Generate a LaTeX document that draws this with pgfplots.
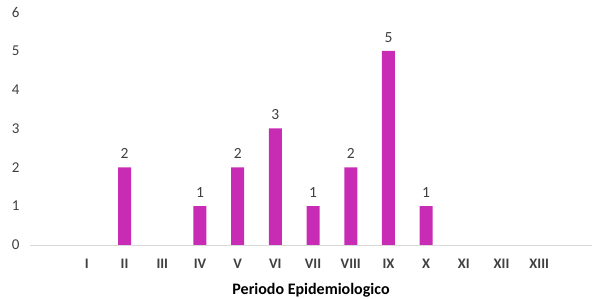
\documentclass[border=0pt]{standalone}
\usepackage{pgfplots}
\pgfplotsset{compat=1.18}
\usepackage{fontspec}
\setmainfont{Carlito}
\definecolor{barc}{RGB}{200,44,180}
\definecolor{txt}{RGB}{64,64,64}
\definecolor{axc}{RGB}{217,217,217}
\begin{document}
\begin{tikzpicture}
\useasboundingbox (0,0) rectangle (592pt,299pt);
\begin{axis}[
  at={(30pt,54pt)}, anchor=south west,
  scale only axis, width=562pt, height=233pt,
  xmin=-1.51, xmax=13.4, ymin=0, ymax=6,
  axis x line=bottom, axis y line=left,
  x axis line style={-, draw=axc, line width=0.8pt},
  y axis line style={draw=none},
  xtick={0,...,12},
  xticklabels={I,II,III,IV,V,VI,VII,VIII,IX,X,XI,XII,XIII},
  ytick={0,...,6},
  major tick length=0pt,
  tick style={draw=none},
  /pgf/number format/assume math mode=true,
  ticklabel style={font=\fontsize{15}{18}\selectfont, text=txt},
  xticklabel style={font=\fontsize{14.5}{17}\selectfont\bfseries, text=txt, yshift=-11pt},
  yticklabel style={xshift=-7pt},
  xlabel={Periodo Epidemiologico},
  xlabel style={at={(axis description cs:0.5,0)}, anchor=center, yshift=-45pt, font=\fontsize{16}{19}\selectfont\bfseries, text=black},
  ybar, bar width=13pt,
  y filter/.expression={y==0 ? nan : y},
  unbounded coords=discard,
  nodes near coords={\pgfmathprintnumber{\pgfplotspointmeta}},
  every node near coord/.append style={font=\fontsize{15.5}{18}\selectfont, text=txt, yshift=5pt},
  clip=false,
]
\addplot[fill=barc, draw=none] coordinates {
(0,0) (1,2) (2,0) (3,1) (4,2) (5,3) (6,1) (7,2) (8,5) (9,1) (10,0) (11,0) (12,0)
};
\end{axis}
\end{tikzpicture}
\end{document}
